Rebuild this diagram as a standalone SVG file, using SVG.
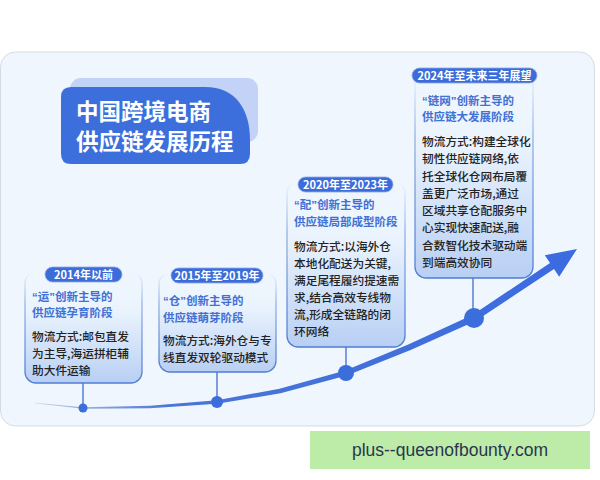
<svg xmlns="http://www.w3.org/2000/svg" width="600" height="480" viewBox="0 0 600 480">
<defs>
<style>
.t{font-family:"Noto Sans CJK SC","Liberation Sans",sans-serif}
.q{font-family:"Liberation Sans",Arial,sans-serif}
.title{font-size:22.5px;font-weight:bold;fill:#fff}
.pill{fill:#3b6cd9;stroke:#8eaae8;stroke-width:0.8}
.pt{font-size:11px;font-weight:bold;fill:#fff;text-anchor:middle}
.sub{font-size:11.5px;font-weight:bold;fill:#4270d4}
.body{font-size:11.7px;font-weight:500;fill:#222}
.card{fill:url(#cardFill);stroke:url(#cardStroke);stroke-width:1.3}
.stem{stroke:#4b78d2;stroke-width:1.4}
.dot{fill:#3b6ddb}
</style>
<linearGradient id="cardFill" x1="0" y1="0" x2="0" y2="1">
<stop offset="0" stop-color="#eef6fe" stop-opacity="0"/>
<stop offset="0.35" stop-color="#eaf3fd"/>
<stop offset="1" stop-color="#b8cff4"/>
</linearGradient>
<linearGradient id="cardStroke" x1="0" y1="0" x2="0" y2="1">
<stop offset="0" stop-color="#5b87d8" stop-opacity="0"/>
<stop offset="0.3" stop-color="#5b87d8" stop-opacity="0.6"/>
<stop offset="1" stop-color="#4f7dd3"/>
</linearGradient>
<linearGradient id="curveFill" gradientUnits="userSpaceOnUse" x1="30" y1="0" x2="580" y2="0">
<stop offset="0" stop-color="#c9d4e6"/>
<stop offset="0.25" stop-color="#4a76d6"/>
<stop offset="1" stop-color="#3a6be0"/>
</linearGradient>
</defs>
<rect x="0" y="0" width="600" height="480" fill="#ffffff"/>
<rect x="0.5" y="52" width="594" height="374" rx="15" fill="#eff6fe" stroke="#d5dbe3" stroke-width="1"/>

<g id="title">
<rect x="70" y="78" width="188" height="64" rx="11" fill="#c3d3f7"/>
<path d="M71 87 H205 C236 87 250 110 250 140 V154 Q250 164 240 164 H71 Q61 164 61 154 V97 Q61 87 71 87 Z" fill="#3d6fdc"/>
<text class="t title" x="76" y="120">中国跨境电商</text>
<text class="t title" x="76" y="150">供应链发展历程</text>
</g>

<g id="connectors">
<path d="M35 402.7 L83 407.2 L150 405.7 L216.8 400.2 L279.5 388.8 L345.2 370.4 L408.8 344.3 L472.4 315.1 L550 263 L544.8 255.2 L577 249 L559.2 276.8 L554 269 L475.6 320.9 L411.2 349.7 L346.8 375.6 L280.5 393.2 L217.2 403.8 L150 408.3 L83 408.8 L35 403.3 Z" fill="url(#curveFill)"/>
<line class="stem" x1="83" y1="383" x2="83" y2="407"/>
<line class="stem" x1="217" y1="372" x2="217" y2="402"/>
<line class="stem" x1="346" y1="347" x2="346" y2="373"/>
<line class="stem" x1="473" y1="278" x2="473" y2="318"/>
<circle class="dot" cx="83" cy="408" r="4.5"/>
<circle class="dot" cx="217" cy="402" r="6"/>
<circle class="dot" cx="346" cy="373" r="8"/>
<circle class="dot" cx="474" cy="318" r="10"/>
</g>

<g id="stage1">
<rect class="card" x="25" y="272" width="117" height="111" rx="11"/>
<rect class="pill" x="45" y="267" width="77" height="15" rx="7.5"/>
<text class="t pt" x="83.5" y="278.8">2014年以前</text>
<text class="t sub" x="32" y="301"><tspan class="q">“</tspan>运<tspan class="q">”</tspan>创新主导的</text>
<text class="t sub" x="32" y="317">供应链孕育阶段</text>
<text class="t body" x="32" y="340.5">物流方式:邮包直发</text>
<text class="t body" x="32" y="357.5">为主导,海运拼柜辅</text>
<text class="t body" x="32" y="374.5">助大件运输</text>
</g>

<g id="stage2">
<rect class="card" x="159" y="273" width="117" height="99" rx="11"/>
<rect class="pill" x="171" y="268" width="92" height="15" rx="7.5"/>
<text class="t pt" x="217" y="279.8">2015年至2019年</text>
<text class="t sub" x="163" y="305"><tspan class="q">“</tspan>仓<tspan class="q">”</tspan>创新主导的</text>
<text class="t sub" x="163" y="322">供应链萌芽阶段</text>
<text class="t body" x="163" y="345">物流方式:海外仓与专</text>
<text class="t body" x="163" y="362">线直发双轮驱动模式</text>
</g>

<g id="stage3">
<rect class="card" x="287" y="182" width="118" height="165" rx="11"/>
<rect class="pill" x="298" y="177" width="95" height="15" rx="7.5"/>
<text class="t pt" x="345.5" y="188.8">2020年至2023年</text>
<text class="t sub" x="294" y="209"><tspan class="q">“</tspan>配<tspan class="q">”</tspan>创新主导的</text>
<text class="t sub" x="294" y="226">供应链局部成型阶段</text>
<text class="t body" x="294" y="250.5">物流方式:以海外仓</text>
<text class="t body" x="294" y="267.5">本地化配送为关键,</text>
<text class="t body" x="294" y="284.5">满足尾程履约提速需</text>
<text class="t body" x="294" y="301.5">求,结合高效专线物</text>
<text class="t body" x="294" y="318.5">流,形成全链路的闭</text>
<text class="t body" x="294" y="335.5">环网络</text>
</g>

<g id="stage4">
<rect class="card" x="415" y="73" width="118" height="205" rx="11"/>
<rect class="pill" x="412" y="68" width="125" height="15" rx="7.5"/>
<text class="t pt" x="474.5" y="79.8">2024年至未来三年展望</text>
<text class="t sub" x="422" y="104.5"><tspan class="q">“</tspan>链网<tspan class="q">”</tspan>创新主导的</text>
<text class="t sub" x="422" y="121">供应链大发展阶段</text>
<text class="t body" x="422" y="145.5">物流方式:构建全球化</text>
<text class="t body" x="422" y="163">韧性供应链网络,依</text>
<text class="t body" x="422" y="180.5">托全球化仓网布局覆</text>
<text class="t body" x="422" y="197.5">盖更广泛市场,通过</text>
<text class="t body" x="422" y="215">区域共享仓配服务中</text>
<text class="t body" x="422" y="232">心实现快速配送,融</text>
<text class="t body" x="422" y="249.5">合数智化技术驱动端</text>
<text class="t body" x="422" y="266.5">到端高效协同</text>
</g>

<g id="watermark">
<rect x="310" y="431" width="280" height="38" fill="#bdeca8"/>
<text x="450" y="456" font-family="Liberation Sans, Arial, sans-serif" font-size="17.5" fill="#2a3550" text-anchor="middle">plus--queenofbounty.com</text>
</g>
</svg>
